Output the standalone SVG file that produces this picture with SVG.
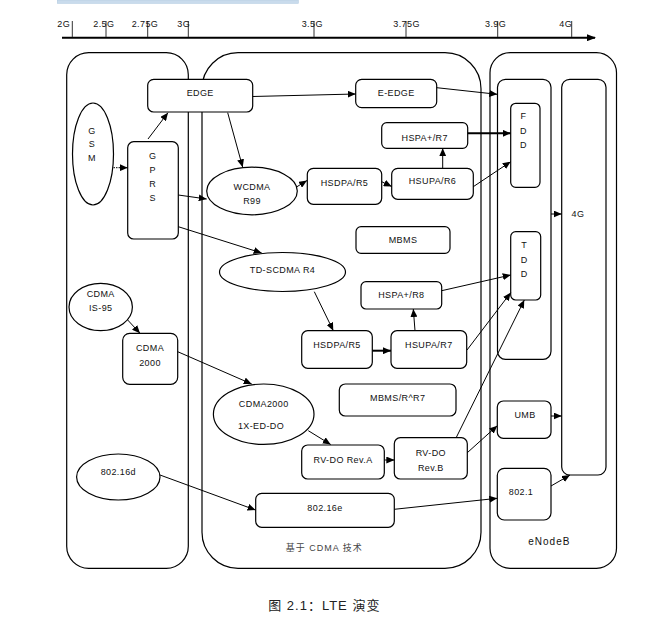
<svg xmlns="http://www.w3.org/2000/svg" width="656" height="623" viewBox="0 0 656 623">
<defs>
<marker id="ah" viewBox="0 0 8 7" refX="8" refY="3.5" markerWidth="8" markerHeight="7" markerUnits="userSpaceOnUse" orient="auto"><path d="M0,0 L8,3.5 L0,7 z" fill="#000"/></marker>
<marker id="axah" viewBox="0 0 9 7" refX="8" refY="3.5" markerWidth="9" markerHeight="7" markerUnits="userSpaceOnUse" orient="auto"><path d="M0,0 L9,3.5 L0,7 z" fill="#000"/></marker>
<style>
.box{fill:#fff;stroke:#000;stroke-width:1.2}
.cont{fill:none;stroke:#000;stroke-width:1.2}
.t{font-family:"Liberation Sans","Noto Sans CJK SC",sans-serif;font-size:9px;letter-spacing:0.4px;fill:#111;text-anchor:middle}
.ax{font-family:"Liberation Sans",sans-serif;font-size:9px;letter-spacing:0.4px;fill:#111}
.c{fill:none;stroke:#000;stroke-width:1;marker-end:url(#ah)}
.thick{stroke-width:2}
.tick{stroke:#333;stroke-width:1}
</style>
</defs>
<rect x="57.3" y="0" width="241" height="3.3" fill="#c9dbec" stroke="#b3cbe2" stroke-width="0.6"/>
<g id="axis">
<line x1="62" y1="37.7" x2="595" y2="37.7" stroke="#000" stroke-width="2" marker-end="url(#axah)"/>
<line class="tick" x1="72.3" y1="21" x2="72.3" y2="37"/>
<line class="tick" x1="106" y1="21" x2="106" y2="37"/>
<line class="tick" x1="147.7" y1="21" x2="147.7" y2="37"/>
<line class="tick" x1="188.3" y1="21" x2="188.3" y2="37"/>
<line class="tick" x1="314" y1="21" x2="314" y2="37"/>
<line class="tick" x1="406" y1="21" x2="406" y2="37"/>
<line class="tick" x1="497.7" y1="21" x2="497.7" y2="37"/>
<line class="tick" x1="571.7" y1="21" x2="571.7" y2="37"/>
<text class="ax" x="57.3" y="26.5">2G</text>
<text class="ax" x="93.3" y="26.5">2.5G</text>
<text class="ax" x="131.7" y="26.5">2.75G</text>
<text class="ax" x="177.3" y="26.5">3G</text>
<text class="ax" x="301.7" y="26.5">3.5G</text>
<text class="ax" x="393.3" y="26.5">3.75G</text>
<text class="ax" x="485" y="26.5">3.9G</text>
<text class="ax" x="559.3" y="26.5">4G</text>
</g>
<g id="containers">
<rect id="left-group" class="cont" x="66.7" y="52.7" width="121.6" height="515.6" rx="22" ry="22"/>
<g id="cdma-group">
<rect class="cont" x="202" y="52.7" width="279" height="515.6" rx="36" ry="36"/>
<text class="t" x="324.3" y="551" style="fill:#444;letter-spacing:1px">基于 CDMA 技术</text>
</g>
<g id="enodeb-group">
<rect class="cont" x="490" y="52.7" width="126.5" height="515.6" rx="20" ry="20"/>
<text class="t" x="549.3" y="545" style="font-size:10px;letter-spacing:1px">eNodeB</text>
</g>
</g>
<g id="fdd-tdd">
<rect class="box" x="497.5" y="79.3" width="53.5" height="280" rx="8" ry="8"/>
</g>
<g id="n4g">
<rect class="box" x="561.7" y="79.3" width="44.3" height="395.7" rx="8" ry="8"/>
<text class="t" x="578" y="217">4G</text>
</g>
<g id="gsm">
<ellipse class="box" cx="93" cy="154" rx="20.5" ry="51"/>
<text class="t" x="92" y="133.5">G</text>
<text class="t" x="92" y="147">S</text>
<text class="t" x="92" y="161">M</text>
</g>
<g id="gprs">
<rect class="box" x="127.7" y="141.7" width="50.6" height="97.3" rx="6" ry="6"/>
<text class="t" x="152.7" y="159">G</text>
<text class="t" x="152.7" y="172.5">P</text>
<text class="t" x="152.7" y="186.5">R</text>
<text class="t" x="152.7" y="201">S</text>
</g>
<g id="edge">
<rect class="box" x="147.7" y="79.3" width="105" height="32.7" rx="6" ry="6"/>
<text class="t" x="200.2" y="96">EDGE</text>
</g>
<g id="e-edge">
<rect class="box" x="355.7" y="79.3" width="81" height="28.4" rx="6" ry="6"/>
<text class="t" x="396.2" y="96">E-EDGE</text>
</g>
<g id="wcdma">
<ellipse class="box" cx="252" cy="191" rx="45.3" ry="23.8"/>
<text class="t" x="252" y="190">WCDMA</text>
<text class="t" x="252" y="204">R99</text>
</g>
<g id="hspa-r7">
<rect class="box" x="381.7" y="122.7" width="86" height="25.6" rx="5" ry="5"/>
<text class="t" x="424.7" y="140.5">HSPA+/R7</text>
</g>
<g id="hsdpa-r5-a">
<rect class="box" x="307.3" y="168.3" width="74.4" height="36" rx="6" ry="6"/>
<text class="t" x="344.5" y="186">HSDPA/R5</text>
</g>
<g id="hsupa-r6">
<rect class="box" x="391.7" y="168.3" width="81.6" height="31" rx="6" ry="6"/>
<text class="t" x="432.5" y="184">HSUPA/R6</text>
</g>
<g id="fdd">
<rect class="box" x="510.7" y="103.3" width="29.3" height="84" rx="5" ry="5"/>
<text class="t" x="523.5" y="119">F</text>
<text class="t" x="523.5" y="134">D</text>
<text class="t" x="523.5" y="148">D</text>
</g>
<g id="mbms">
<rect class="box" x="356" y="226.7" width="94" height="26.6" rx="5" ry="5"/>
<text class="t" x="403" y="242.5">MBMS</text>
</g>
<g id="tdd">
<rect class="box" x="510.7" y="231.7" width="30" height="68.3" rx="5" ry="5"/>
<text class="t" x="524.3" y="248">T</text>
<text class="t" x="524.3" y="262.5">D</text>
<text class="t" x="524.3" y="276.5">D</text>
</g>
<g id="td-scdma">
<ellipse class="box" cx="282.5" cy="272" rx="63" ry="19.5"/>
<text class="t" x="282.5" y="273">TD-SCDMA R4</text>
</g>
<g id="cdma-is95">
<ellipse class="box" cx="100.7" cy="307" rx="31.7" ry="23.7"/>
<text class="t" x="100.7" y="296.5">CDMA</text>
<text class="t" x="100.7" y="311">IS-95</text>
</g>
<g id="hspa-r8">
<rect class="box" x="361" y="281.7" width="80.7" height="27.3" rx="5" ry="5"/>
<text class="t" x="401.3" y="298">HSPA+/R8</text>
</g>
<g id="hsdpa-r5-b">
<rect class="box" x="301.7" y="330.7" width="70.6" height="37.6" rx="6" ry="6"/>
<text class="t" x="337" y="347.5">HSDPA/R5</text>
</g>
<g id="hsupa-r7">
<rect class="box" x="391" y="330.7" width="75.7" height="37.6" rx="6" ry="6"/>
<text class="t" x="428.8" y="347.5">HSUPA/R7</text>
</g>
<g id="cdma2000-box">
<rect class="box" x="122.7" y="333.3" width="55" height="51" rx="7" ry="7"/>
<text class="t" x="150" y="351">CDMA</text>
<text class="t" x="150" y="365.5">2000</text>
</g>
<g id="mbms-r7">
<rect class="box" x="339.3" y="384" width="116.7" height="32" rx="6" ry="6"/>
<text class="t" x="397.7" y="401">MBMS/R^R7</text>
</g>
<g id="cdma2000-do">
<ellipse class="box" cx="263.7" cy="414.2" rx="50.3" ry="30.2"/>
<text class="t" x="263.7" y="406.5">CDMA2000</text>
<text class="t" x="261" y="429">1X-ED-DO</text>
</g>
<g id="rvdo-a">
<rect class="box" x="301.7" y="445" width="82.6" height="34" rx="6" ry="6"/>
<text class="t" x="343" y="462.5">RV-DO Rev.A</text>
</g>
<g id="rvdo-b">
<rect class="box" x="394.3" y="437.7" width="73" height="41.3" rx="6" ry="6"/>
<text class="t" x="430.8" y="456">RV-DO</text>
<text class="t" x="430.8" y="470.5">Rev.B</text>
</g>
<g id="umb">
<rect class="box" x="497.3" y="401" width="53.7" height="37.3" rx="6" ry="6"/>
<text class="t" x="525" y="417.5">UMB</text>
</g>
<g id="n80216d">
<ellipse class="box" cx="118.3" cy="477" rx="41.7" ry="23"/>
<text class="t" x="118.3" y="475">802.16d</text>
</g>
<g id="n80216e">
<rect class="box" x="255.7" y="493.3" width="138.6" height="34" rx="6" ry="6"/>
<text class="t" x="325" y="511">802.16e</text>
</g>
<g id="n8021">
<rect class="box" x="497.3" y="468.3" width="53.7" height="51.7" rx="7" ry="7"/>
<text class="t" x="521" y="495">802.1</text>
</g>
<g id="connectors">
<line class="c" x1="113.5" y1="167.7" x2="127.7" y2="167.7" stroke-dasharray="1.5,1"/>
<line class="c" x1="148" y1="139" x2="168" y2="112.7"/>
<line class="c" x1="227.7" y1="112.7" x2="242.7" y2="167.3"/>
<line class="c" x1="178.3" y1="195" x2="206.7" y2="199"/>
<line class="c" x1="178.3" y1="226.7" x2="261.7" y2="253"/>
<line class="c" x1="252.7" y1="96.5" x2="355.7" y2="94"/>
<line class="c" x1="436.7" y1="87.7" x2="497.3" y2="94.3"/>
<line class="c" x1="297" y1="186.7" x2="307" y2="180.5"/>
<line class="c" x1="381.7" y1="181.7" x2="391.7" y2="186.5"/>
<line class="c" x1="442.7" y1="168.3" x2="442.7" y2="148.3"/>
<line class="c thick" x1="467.7" y1="133.3" x2="510.7" y2="133.3"/>
<line class="c" x1="473.3" y1="186.7" x2="510.7" y2="161.7"/>
<line class="c" x1="551" y1="214" x2="561.7" y2="214"/>
<line class="c" x1="314.3" y1="291.7" x2="333.3" y2="330.7"/>
<line class="c thick" x1="372.3" y1="350.7" x2="391" y2="350.7"/>
<line class="c" x1="415" y1="330.7" x2="413.3" y2="309"/>
<line class="c" x1="441.7" y1="290.7" x2="510.7" y2="275"/>
<line class="c" x1="467" y1="350" x2="510.7" y2="292.7"/>
<line class="c" x1="127.7" y1="320" x2="140" y2="333.3"/>
<line class="c" x1="177.7" y1="351.7" x2="251.7" y2="384"/>
<line class="c" x1="308.3" y1="430.7" x2="330.7" y2="444.5"/>
<line class="c" x1="384.3" y1="460" x2="394.3" y2="460"/>
<line class="c" x1="456" y1="438" x2="524.3" y2="300"/>
<line class="c" x1="467.3" y1="452.7" x2="497.3" y2="425.7"/>
<line class="c" x1="551" y1="416" x2="561.7" y2="416"/>
<line class="c" x1="160" y1="475" x2="255.5" y2="510"/>
<line class="c" x1="394.3" y1="509.3" x2="497.3" y2="498.3"/>
<line class="c" x1="551" y1="486" x2="570" y2="475"/>
</g>
<text x="324.3" y="610" style="font-family:'Liberation Sans','Noto Sans CJK SC',sans-serif;font-size:13px;letter-spacing:1px;fill:#222;text-anchor:middle">图 2.1：LTE 演变</text>
</svg>
